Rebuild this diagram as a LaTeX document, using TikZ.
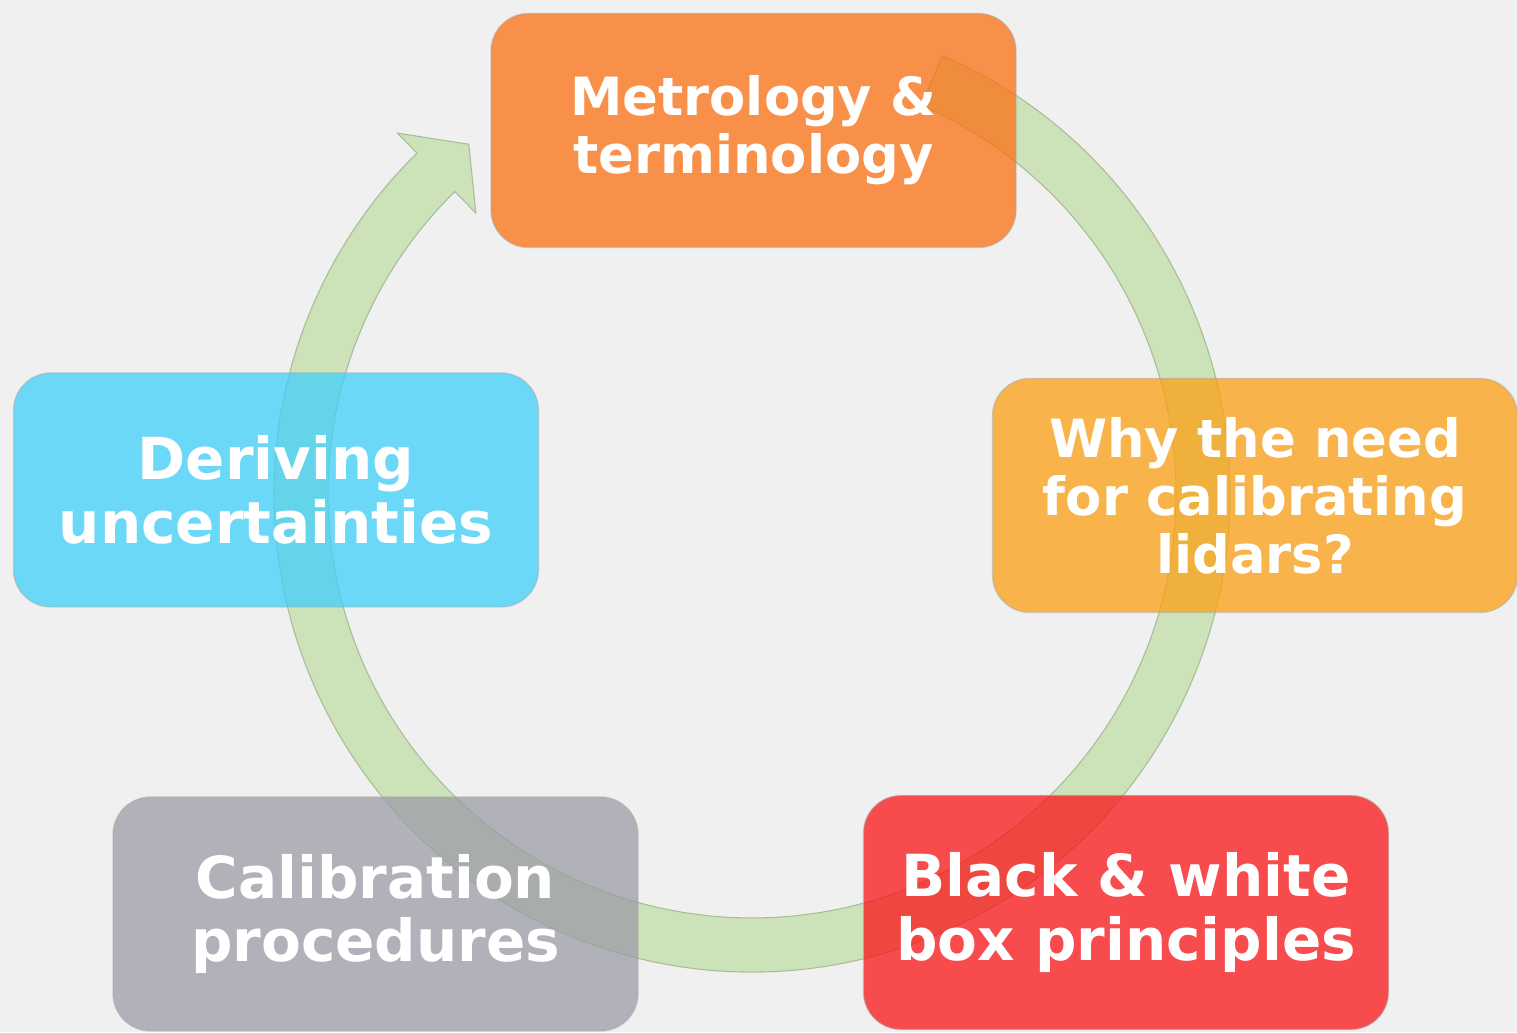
\documentclass[tikz,border=0pt]{standalone}
\usepackage{fontspec}
\setmainfont{DejaVu Sans}

\definecolor{canvas}{RGB}{240,240,240}
\definecolor{ringgreen}{RGB}{204,226,184}
\definecolor{ringedge}{RGB}{168,188,150}
\definecolor{metrocol}{RGB}{252,113,19}
\definecolor{whycol}{RGB}{252,160,19}
\definecolor{boxcol}{RGB}{252,20,24}
\definecolor{calibcol}{RGB}{157,156,167}
\definecolor{derivcol}{RGB}{65,208,252}

\begin{document}
\begin{tikzpicture}[x=1cm,y=1cm,
  stage/.style={draw=black!35, draw opacity=0.45, line width=0.8pt,
    fill opacity=0.75, text opacity=1, text=white,
    rounded corners=0.75cm, align=center, inner sep=0pt,
    minimum width=10.5cm, minimum height=4.68cm,
    font=\bfseries\fontsize{33}{36}\selectfont},
  smallstage/.style={stage, font=\bfseries\fontsize{30}{33}\selectfont}]
\fill[canvas] (0,0) rectangle (30.34,20.64);
\useasboundingbox (0,0) rectangle (30.34,20.64);

% cycle arrow, drawn first so it shows through the boxes
\begin{scope}[shift={(15.04,10.76)}]
\filldraw[fill=ringgreen, draw=ringedge, line width=0.6pt]
  (66.5:9.56) arc[start angle=66.5, end angle=-225.5, radius=9.56]
  -- (134.5:10.12) -- (129:9.0) -- (134.5:7.88) -- (134.5:8.48)
  arc[start angle=-225.5, end angle=66.5, radius=8.48] -- cycle;
\end{scope}

\node[smallstage, fill=metrocol] (metrology) at (15.07,18.03) {Metrology \&\\terminology};
\node[smallstage, fill=whycol] (why) at (25.10,10.73) {Why the need\\for calibrating\\lidars?};
\node[stage, fill=boxcol] (blackwhite) at (22.52,2.39) {Black \& white\\box principles};
\node[stage, fill=calibcol] (calibration) at (7.51,2.36) {Calibration\\procedures};
\node[stage, fill=derivcol] (deriving) at (5.52,10.84) {Deriving\\uncertainties};
\end{tikzpicture}
\end{document}
